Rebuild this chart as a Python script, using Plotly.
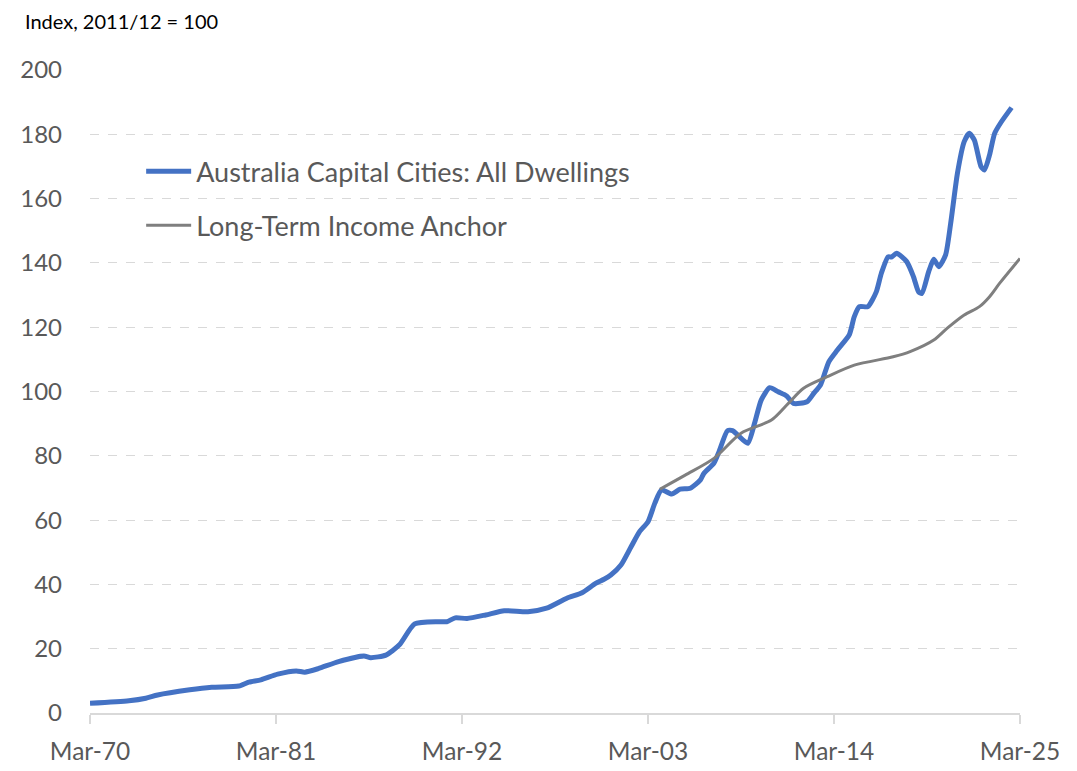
import plotly.graph_objects as go

# housing index (decimal year, value)
dwell_year = [1970.0, 1972.3, 1973.3, 1974.0, 1975.9, 1977.2, 1978.8, 1979.4, 1980.1, 1981.1,
              1982.2, 1982.7, 1983.5, 1984.7, 1986.2, 1986.6, 1987.5, 1988.3, 1989.2, 1990.6,
              1991.1, 1991.6, 1992.3, 1993.4, 1994.5, 1995.9, 1997.0, 1998.2, 1999.1, 1999.9,
              2000.4, 2000.8, 2001.4, 2002.0, 2002.5, 2003.0, 2003.4, 2003.8, 2004.4, 2004.9,
              2005.5, 2006.1, 2006.3, 2006.9, 2007.2, 2007.7, 2008.0, 2008.3, 2008.9, 2009.3,
              2009.7, 2010.2, 2010.7, 2011.2, 2011.6, 2012.4, 2012.8, 2013.2, 2013.7, 2014.2,
              2014.9, 2015.2, 2015.5, 2016.0, 2016.5, 2016.8, 2017.2, 2017.4, 2017.7, 2018.3,
              2018.7, 2019.0, 2019.2, 2019.6, 2019.9, 2020.2, 2020.6, 2020.9, 2021.3, 2021.7,
              2022.0, 2022.3, 2022.7, 2022.9, 2023.2, 2023.5, 2023.9, 2024.5]
dwell_val = [3.0, 3.8, 4.6, 5.6, 7.2, 8.0, 8.4, 9.6, 10.3, 12.1,
             13.1, 12.7, 13.8, 16.0, 17.7, 17.2, 18.0, 21.2, 27.7, 28.4,
             28.4, 29.6, 29.4, 30.5, 31.8, 31.5, 32.6, 35.7, 37.4, 40.3,
             41.6, 42.9, 46.0, 51.7, 56.4, 59.5, 65.2, 69.4, 68.1, 69.6,
             69.9, 72.5, 74.5, 77.7, 81.3, 87.8, 87.8, 86.5, 83.9, 90.1,
             97.4, 101.2, 99.9, 98.6, 96.3, 96.8, 99.4, 102.0, 109.3, 112.9,
             117.6, 123.3, 126.4, 126.4, 131.0, 136.8, 141.9, 141.8, 143.0, 140.4,
             135.7, 131.0, 130.5, 137.3, 141.1, 138.8, 142.5, 152.3, 167.9, 177.7,
             180.3, 178.2, 169.9, 168.9, 173.6, 180.3, 183.9, 188.3]

# long-term income anchor
anchor_year = [2003.7, 2005.2, 2006.9, 2008.5, 2010.3, 2011.3, 2012.2, 2013.6, 2015.2,
               2017.5, 2018.5, 2019.9, 2020.7, 2021.7, 2022.6, 2023.2, 2023.8, 2025.0]
anchor_val = [69.6, 74.0, 79.2, 87.0, 91.1, 96.3, 101.0, 104.6, 108.2,
              110.8, 112.4, 116.0, 119.7, 123.8, 126.4, 129.5, 133.7, 141.4]

tick_years = [1970, 1981, 1992, 2003, 2014, 2025]
tick_labels = ["Mar-70", "Mar-81", "Mar-92", "Mar-03", "Mar-14", "Mar-25"]

fig = go.Figure()
fig.add_trace(go.Scatter(x=dwell_year, y=dwell_val, mode="lines",
                         name="Australia Capital Cities: All Dwellings", legendgroup="a",
                         line=dict(color="#4472C4", width=5, shape="spline", smoothing=0.6)))
fig.add_trace(go.Scatter(x=anchor_year, y=anchor_val, mode="lines",
                         name="Long-Term Income Anchor", legendgroup="b",
                         line=dict(color="#7F7F7F", width=3, shape="spline", smoothing=0.8)))

# the page body adds 8px on the left and top
fig.update_layout(
    width=1077, height=771,
    margin=dict(l=79, r=65, t=62, b=66),
    paper_bgcolor="white", plot_bgcolor="white",
    font=dict(family="Lato, 'Open Sans', sans-serif", color="#595959"),
    legend=dict(x=0.055, y=0.88, xanchor="left", yanchor="top", bgcolor="rgba(0,0,0,0)",
                font=dict(size=27, color="#595959"), tracegroupgap=16, itemwidth=45),
    annotations=[dict(text="Index, 2011/12 = 100", xref="paper", yref="paper",
                      x=(20 - 87) / 933, y=1 + 49 / 643, xanchor="left", yanchor="middle",
                      showarrow=False, font=dict(size=20, color="black"))],
)
fig.update_xaxes(range=[1970, 2025], tickvals=tick_years, ticktext=tick_labels,
                 showgrid=False, zeroline=False, showline=True, linecolor="#d9d9d9", linewidth=1.5,
                 ticks="outside", ticklen=9, tickcolor="#d9d9d9", tickwidth=1.5,
                 tickfont=dict(size=24.5, color="#595959"), ticklabelstandoff=7)
fig.update_yaxes(range=[0, 200], dtick=20, showgrid=True, gridcolor="#d9d9d9", griddash="dash",
                 gridwidth=1.2, zeroline=False, showline=False, ticks="",
                 tickfont=dict(size=24, color="#595959"), ticklabelstandoff=27)

fig.write_html("out.html")
